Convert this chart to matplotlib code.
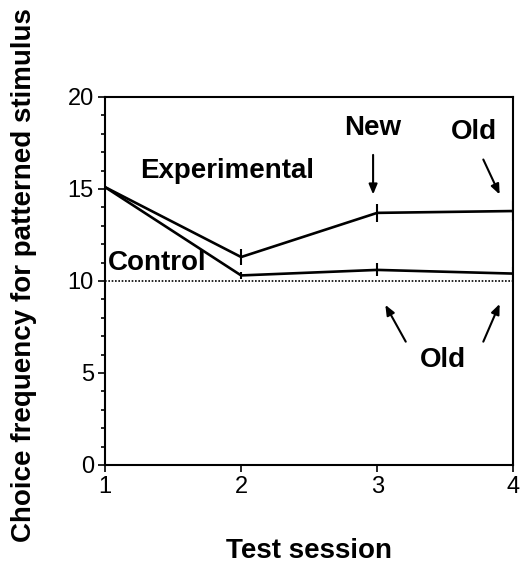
import matplotlib
matplotlib.use("Agg")
import matplotlib.pyplot as plt
from matplotlib.ticker import MultipleLocator

sessions = [1, 2, 3, 4]
experimental = [15.1, 11.3, 13.7, 13.8]
experimental_err = [0.0, 0.45, 0.5, 0.55]
control = [15.1, 10.3, 10.6, 10.4]
control_err = [0.0, 0.2, 0.35, 0.35]
chance_level = 10

xticks = [1, 2, 3, 4]
yticks = [0, 5, 10, 15, 20]

plt.rcParams['font.family'] = ['Liberation Sans', 'DejaVu Sans']

fig = plt.figure(figsize=(5.2, 5.67), dpi=100)
ax = fig.add_axes([0.202, 0.180, 0.785, 0.649])

ax.errorbar(sessions, experimental, yerr=experimental_err, color='black', lw=1.9,
            capsize=0, elinewidth=1.5)
ax.errorbar(sessions, control, yerr=control_err, color='black', lw=1.9,
            capsize=0, elinewidth=1.5)
ax.plot([1, 4], [chance_level, chance_level], color='black', lw=1.2, ls=(0, (1, 1)))

ax.set_xlim(1, 4)
ax.set_ylim(0, 20)
ax.set_xticks(xticks)
ax.set_yticks(yticks)
ax.yaxis.set_minor_locator(MultipleLocator(1))
ax.tick_params(axis='both', which='major', direction='out', length=5, width=1.2,
               labelsize=17, pad=3)
ax.tick_params(axis='y', which='minor', direction='out', length=3, width=1.2)
for s in ax.spines.values():
    s.set_linewidth(1.5)

ax.set_xlabel('Test session', fontsize=20, fontweight='bold', labelpad=29)
ax.set_ylabel('Choice frequency for patterned stimulus', fontsize=20,
              fontweight='bold')
ax.yaxis.set_label_coords(-0.167, 0.516)

bold = dict(fontsize=20, fontweight='bold', ha='center', va='center')
ax.text(1.90, 16.0, 'Experimental', **bold)
ax.text(1.02, 11.0, 'Control', fontsize=20, fontweight='bold', ha='left', va='center')
ax.text(2.97, 18.3, 'New', **bold)
ax.text(3.71, 18.1, 'Old', **bold)
ax.text(3.48, 5.7, 'Old', **bold)

arrow = dict(arrowstyle='-|>,head_length=0.6,head_width=0.25', color='black', lw=1.5,
             shrinkA=0, shrinkB=0)
ax.annotate('', xy=(2.97, 14.7), xytext=(2.97, 16.85), arrowprops=arrow)
ax.annotate('', xy=(3.90, 14.7), xytext=(3.78, 16.6), arrowprops=arrow)
ax.annotate('', xy=(3.06, 8.7), xytext=(3.21, 6.7), arrowprops=arrow)
ax.annotate('', xy=(3.90, 8.75), xytext=(3.78, 6.7), arrowprops=arrow)

fig.savefig('out.png', dpi=100)
